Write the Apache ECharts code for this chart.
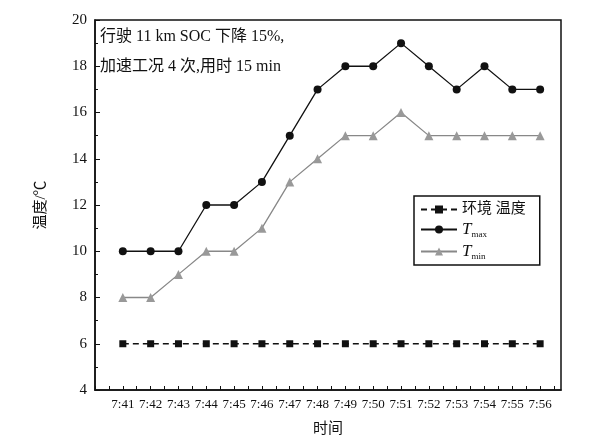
<!DOCTYPE html>
<html><head><meta charset="utf-8">
<script src="https://cdn.jsdelivr.net/npm/echarts@6/dist/echarts.min.js"></script>
<style>html,body{margin:0;padding:0;background:#fff}#c{width:591px;height:444px}</style>
</head><body><div id="c"></div>
<script>
var times = ['7:41','7:42','7:43','7:44','7:45','7:46','7:47','7:48','7:49','7:50','7:51','7:52','7:53','7:54','7:55','7:56'];
var envTemp = [6,6,6,6,6,6,6,6,6,6,6,6,6,6,6,6];
var tMax = [10,10,10,12,12,13,15,17,18,18,19,18,17,18,17,17];
var tMin = [8,8,9,10,10,11,13,14,15,15,16,15,15,15,15,15];

function pts(arr){
	return arr.map(function(v, i){ return [41 + i, v]; });
}
var font = '"Liberation Serif","Noto Sans CJK SC",serif';
var chart = echarts.init(document.getElementById('c'));
chart.setOption({
	animation: false,
	textStyle: {fontFamily: font},
	graphic: [{
		type: 'text', left: 100, top: 22,
		style: {text: '行驶 11 km SOC 下降 15%,\n加速工况 4 次,用时 15 min', font: '16px ' + font, lineHeight: 30, fill: '#111'}
	}],
	grid: {left: 95, right: 30, top: 20, bottom: 54, show: true, borderColor: '#111', borderWidth: 1.5},
	legend: {
		orient: 'vertical', left: 414, top: 196, itemGap: 4, itemWidth: 36, itemHeight: 10,
		borderColor: '#111', borderWidth: 1.5, padding: [6, 14, 4, 6],
		textStyle: {fontSize: 15, fontFamily: font, color: '#111',
			rich: {i: {fontStyle: 'italic', fontSize: 17, fontFamily: font}, s: {fontSize: 9, verticalAlign: 'bottom', padding: [10,0,0,0], fontFamily: font}}},
		formatter: function(n){
			if (n === 'Tmax') return '{i|T}{s|max}';
			if (n === 'Tmin') return '{i|T}{s|min}';
			return n;
		},
		data: ['环境 温度', 'Tmax', 'Tmin']
	},
	xAxis: {
		type: 'value', min: 40, max: 56.75, interval: 0.5,
		name: '时间', nameLocation: 'middle', nameGap: 32,
		nameTextStyle: {fontSize: 15, color: '#111', fontFamily: font},
		splitLine: {show: false},
		axisLine: {lineStyle: {color: '#111', width: 1.5}},
		axisTick: {inside: true, length: 4, lineStyle: {color: '#111'}},
		axisLabel: {color: '#111', fontSize: 13, showMaxLabel: false, formatter: function(v){
			var i = Math.round(v) - 41;
			return (v % 1 === 0 && i >= 0 && i < times.length) ? times[i] : '';
		}}
	},
	yAxis: {
		type: 'value', min: 4, max: 20, interval: 2,
		name: '温度/℃', nameLocation: 'middle', nameGap: 46, nameRotate: 90,
		nameTextStyle: {fontSize: 15, color: '#111', fontFamily: font},
		splitLine: {show: false},
		axisLine: {lineStyle: {color: '#111', width: 1.5}},
		axisTick: {inside: true, length: 5, lineStyle: {color: '#111'}},
		minorTick: {show: true, splitNumber: 2, length: 3, lineStyle: {color: '#111'}},
		axisLabel: {color: '#111', fontSize: 15}
	},
	series: [
		{name: '环境 温度', type: 'line', data: pts(envTemp), symbol: 'rect', symbolSize: 7,
			lineStyle: {color: '#111', width: 1.3, type: [6, 4]}, itemStyle: {color: '#111'}},
		{name: 'Tmax', type: 'line', data: pts(tMax), symbol: 'circle', symbolSize: 8,
			lineStyle: {color: '#111', width: 1.3}, itemStyle: {color: '#111'}},
		{name: 'Tmin', type: 'line', data: pts(tMin), symbol: 'triangle', symbolSize: 9,
			lineStyle: {color: '#888', width: 1.3}, itemStyle: {color: '#999'}}
	]
});
</script></body></html>
